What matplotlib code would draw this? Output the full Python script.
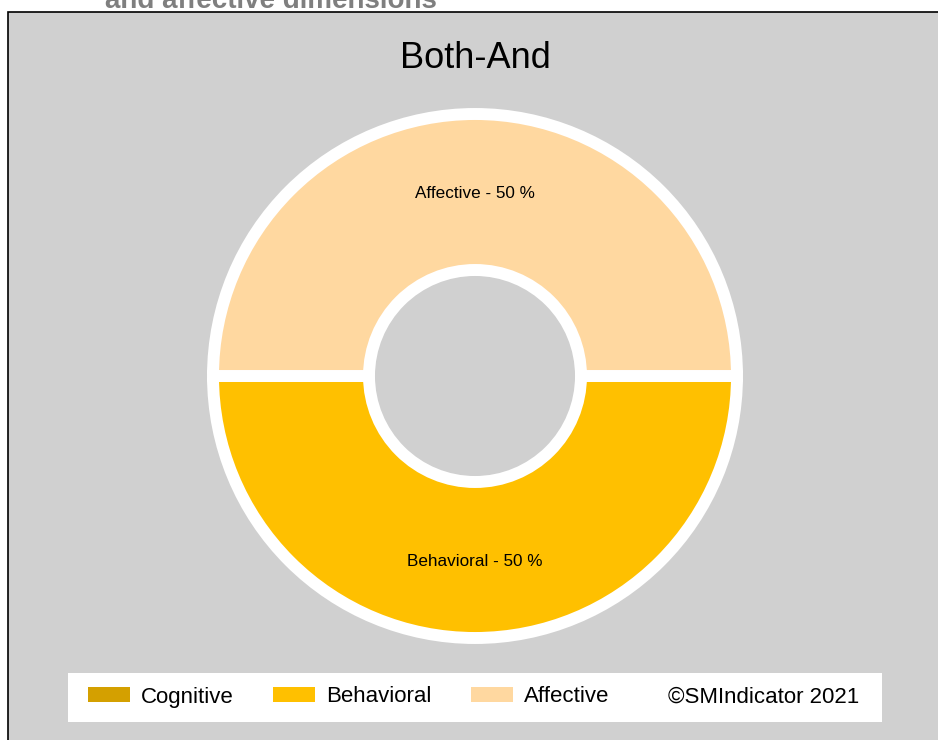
import matplotlib
matplotlib.use("Agg")
import matplotlib.pyplot as plt
from matplotlib.patches import Rectangle, Patch
import numpy as np

plt.rcParams['font.family'] = ['Liberation Sans', 'DejaVu Sans']

# Data
categories = ["Cognitive", "Behavioral", "Affective"]
shares = [0, 50, 50]
colors = ["#D4A000", "#FFC000", "#FFD8A0"]
chart_title = "Both-And"
header_text = "and affective dimensions"
credit = "\u00a9SMIndicator 2021"

W, H = 938, 740
fig = plt.figure(figsize=(W / 100, H / 100), dpi=100)
fig.patch.set_facecolor("white")

# Cut-off heading behind the panel
fig.text(105 / W, 1 - 8 / H, header_text, fontsize=20, fontweight="bold",
         color="#7f7f7f", ha="left", va="baseline", zorder=0)

# Gray panel with black border
panel = Rectangle((8 / W, -0.01), 1.0, 1 - 12 / H + 0.01, transform=fig.transFigure,
                  facecolor="#D0D0D0", edgecolor="black", linewidth=1.2, zorder=1)
fig.patches.append(panel)

fig.text(475 / W, 1 - 68 / H, chart_title, fontsize=26, color="black",
         ha="center", va="baseline", zorder=3)

# Donut
ax = fig.add_axes([0, 0, 1, 1], zorder=2)
ax.patch.set_alpha(0)

cx, cy = 475, H - 376
r_out, r_in = 262, 106
keep = [i for i, v in enumerate(shares) if v > 0]
vals = [shares[i] for i in keep]
wedges, _ = ax.pie(vals, colors=[colors[i] for i in keep], center=(cx, cy),
                   radius=r_out, startangle=180, counterclock=True,
                   wedgeprops=dict(width=r_out - r_in, edgecolor="white",
                                   linewidth=8.6), frame=True)
ax.set_xlim(0, W)
ax.set_ylim(0, H)
ax.set_aspect("equal")
ax.axis("off")

total = sum(shares)
r_mid = (r_out + r_in) / 2
for w, i in zip(wedges, keep):
    ang = np.deg2rad((w.theta1 + w.theta2) / 2)
    ax.text(cx + r_mid * np.cos(ang), cy + r_mid * np.sin(ang) - 2,
            f"{categories[i]} - {shares[i] / total * 100:.0f} %",
            ha="center", va="center", fontsize=12.3, color="black")

# Legend box
box = Rectangle((68 / W, 1 - 722 / H), (882 - 68) / W, (722 - 673) / H,
                transform=fig.transFigure, facecolor="white", edgecolor="none", zorder=3)
fig.patches.append(box)

handles = [Patch(facecolor=c, edgecolor="none") for c in colors]
leg = fig.legend(handles, categories, loc="center left",
                 bbox_to_anchor=(88 / W, 1 - 697 / H), ncol=3, frameon=False,
                 fontsize=16, handlelength=1.9, handleheight=0.63,
                 handletextpad=0.5, columnspacing=1.75, borderpad=0,
                 borderaxespad=0)
leg.set_zorder(4)
fig.text(668 / W, 1 - 697 / H, credit, fontsize=16, ha="left", va="center",
         color="black", zorder=4)

fig.savefig("out.png", dpi=100)
